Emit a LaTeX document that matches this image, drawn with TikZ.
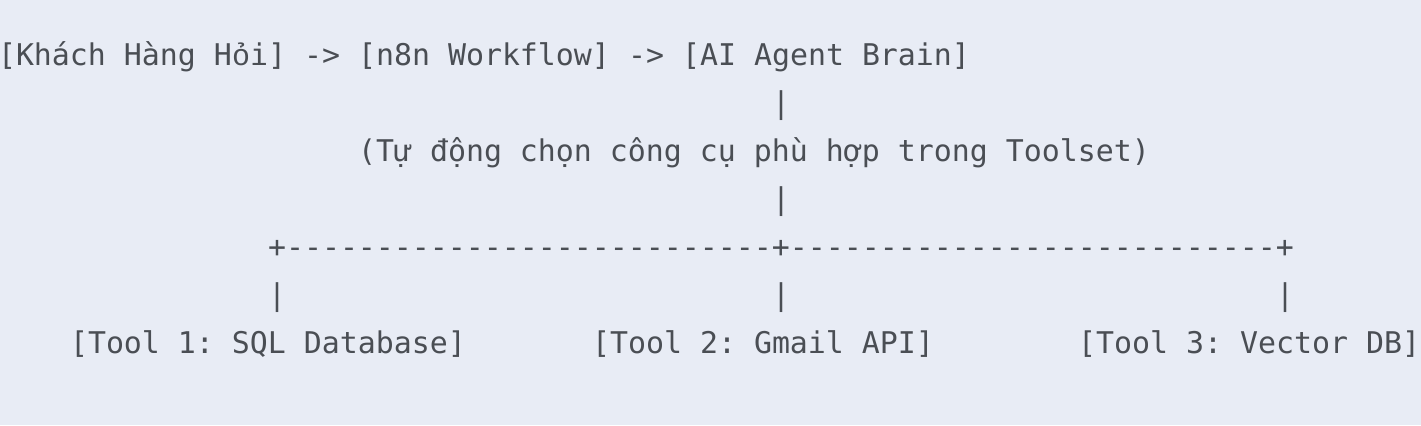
\documentclass[tikz,border=0pt]{standalone}
\usepackage{fontspec}
\setmonofont{DejaVu Sans Mono}
\newfontfamily\vifont{Liberation Mono}
\definecolor{bgcol}{RGB}{232,236,245}
\definecolor{txtcol}{RGB}{74,78,84}
\newcommand{\cx}[1]{-2+18*#1}
\newcommand{\viohook}{{\vifont\fontsize{15pt}{18pt}\selectfont ỏ}}
\tikzset{
  ascii/.style={anchor=base west, inner sep=0pt, outer sep=0pt, text=txtcol,
    font=\ttfamily\fontsize{14.95pt}{18pt}\selectfont}
}
\begin{document}
\begin{tikzpicture}[x=0.5pt,y=-0.5pt]
\fill[bgcol] (0,0) rectangle (1421,425);
\useasboundingbox (0,0) rectangle (1421,425);
% line 1
\node[ascii] (khach) at ({\cx{0}},65) {[Khách Hàng H\viohook i]};
\node[ascii] (arr1) at ({\cx{17}},65) {->};
\node[ascii] (n8n) at ({\cx{20}},65) {[n8n Workflow]};
\node[ascii] (arr2) at ({\cx{35}},65) {->};
\node[ascii] (brain) at ({\cx{38}},65) {[AI Agent Brain]};
% line 2
\node[ascii] (bar1) at ({\cx{43}},113) {|};
% line 3
\node[ascii] (auto) at ({\cx{20}},161) {(Tự động chọn công cụ phù hợp trong Toolset)};
% line 4
\node[ascii] (bar2) at ({\cx{43}},209) {|};
% line 5
\node[ascii] (split) at ({\cx{15}},257) {+---------------------------+---------------------------+};
% line 6
\node[ascii] (barA) at ({\cx{15}},305) {|};
\node[ascii] (barB) at ({\cx{43}},305) {|};
\node[ascii] (barC) at ({\cx{71}},305) {|};
% line 7
\node[ascii] (tool1) at ({\cx{4}},353) {[Tool 1: SQL Database]};
\node[ascii] (tool2) at ({\cx{33}},353) {[Tool 2: Gmail API]};
\node[ascii] (tool3) at ({\cx{60}},353) {[Tool 3: Vector DB]};
\end{tikzpicture}
\end{document}
